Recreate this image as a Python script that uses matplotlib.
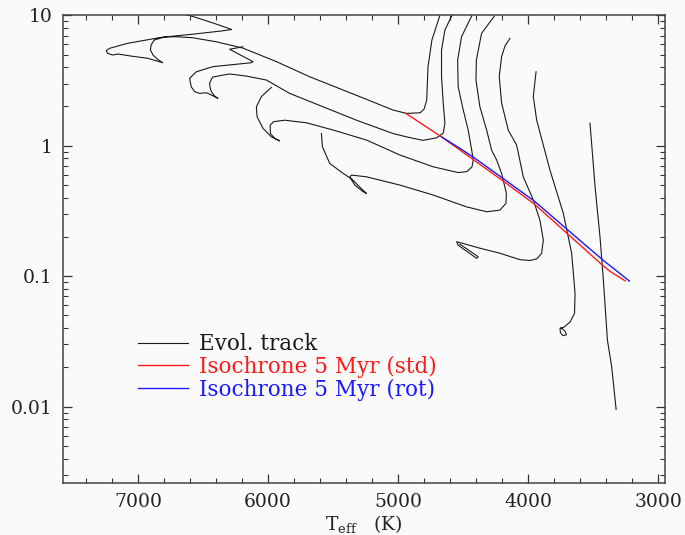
import matplotlib
matplotlib.use("Agg")
import matplotlib.pyplot as plt
from matplotlib.ticker import MultipleLocator, LogLocator, FuncFormatter, NullFormatter

# PMS evolutionary tracks, Teff [K] and L [Lsun]
track1_teff = [4670, 4680, 4710, 4740, 4770, 4780, 4800, 4830, 4935, 5040,
               5295, 5680, 5935, 6195, 6400, 6580, 6705, 6795, 6875, 6900,
               6905, 6885, 6850, 6810, 6925, 7055, 7155, 7195, 7235, 7245,
               7220, 7080, 6820, 6565, 6360, 6280, 6435, 6590, 6680]
track1_lum = [10.6, 9.88, 7.99, 6.47, 4.01, 2.24, 1.91, 1.79, 1.77, 1.88,
              2.38, 3.38, 4.41, 5.61, 6.27, 6.73, 6.85, 6.82, 6.47, 5.92,
              5.42, 4.96, 4.60, 4.33, 4.68, 4.87, 5.05, 4.96, 5.11, 5.35,
              5.58, 6.10, 6.78, 7.19, 7.58, 7.78, 8.81, 9.88, 10.4]

track2_teff = [4586, 4588, 4640, 4666, 4666, 4653, 4640, 4653, 4704, 4810,
               4935, 5038, 5320, 5577, 5834, 6013, 6167, 6296, 6347, 6427,
               6450, 6446, 6437, 6411, 6386, 6437, 6475, 6527, 6565, 6591,
               6604, 6552, 6424, 6129, 6116, 6296, 6193]
track2_lum = [10.6, 9.88, 7.71, 5.42, 3.38, 2.13, 1.49, 1.25, 1.15, 1.10,
              1.17, 1.24, 1.57, 1.99, 2.52, 3.19, 3.42, 3.55, 3.48, 3.36,
              3.03, 2.79, 2.60, 2.40, 2.31, 2.45, 2.55, 2.52, 2.60, 2.83,
              3.29, 3.69, 4.04, 4.33, 4.41, 5.49, 5.74]

track3_teff = [4432, 4434, 4512, 4542, 4538, 4499, 4461, 4434, 4422, 4432,
               4471, 4538, 4730, 4987, 5243, 5500, 5705, 5872, 5957, 5984,
               5982, 5949, 5911, 5975, 6039, 6085, 6090, 6052, 5975]
track3_lum = [10.6, 9.88, 6.85, 4.54, 2.83, 1.88, 1.32, 0.927, 0.777, 0.687,
              0.634, 0.623, 0.690, 0.85, 1.106, 1.32, 1.50, 1.57, 1.53, 1.44,
              1.24, 1.14, 1.09, 1.17, 1.36, 1.67, 1.99, 2.38, 2.80]

track4_teff = [4259, 4358, 4398, 4401, 4371, 4319, 4281, 4242, 4204, 4167,
               4170, 4217, 4319, 4473, 4730, 4987, 5243, 5359, 5372, 5333,
               5269, 5243, 5287, 5356, 5423, 5526, 5582, 5590]
track4_lum = [9.88, 7.28, 4.54, 3.19, 1.99, 1.32, 0.927, 0.777, 0.614, 0.431,
              0.362, 0.321, 0.312, 0.340, 0.419, 0.500, 0.578, 0.596, 0.575, 0.500,
              0.444, 0.431, 0.474, 0.555, 0.614, 0.733, 0.982, 1.24]

track5_teff = [4140, 4178, 4204, 4222, 4204, 4153, 4088, 4037, 3960, 3909,
               3883, 3896, 3932, 3986, 4063, 4217, 4371, 4550, 4538, 4463,
               4396, 4384, 4463, 4525]
track5_lum = [6.66, 5.82, 4.81, 3.38, 2.13, 1.32, 1.01, 0.578, 0.384, 0.269,
              0.189, 0.150, 0.136, 0.132, 0.134, 0.150, 0.164, 0.184, 0.173, 0.153,
              0.137, 0.141, 0.160, 0.176]

track6_teff = [3939, 3960, 3934, 3832, 3729, 3665, 3639, 3643, 3678, 3724,
               3755, 3751, 3732, 3705, 3716, 3747]
track6_lum = [3.69, 2.38, 1.57, 0.651, 0.303, 0.150, 0.0738, 0.0518, 0.0445, 0.0407,
              0.0396, 0.0369, 0.0350, 0.0356, 0.0379, 0.0403]

track7_teff = [3524, 3485, 3447, 3421, 3390, 3357, 3323]
track7_lum = [1.49, 0.485, 0.200, 0.0933, 0.0324, 0.0202, 0.00952]

# 5 Myr isochrones
iso_std_teff = [4940, 4666, 4422, 4191, 3947, 3716, 3434, 3370, 3254]
iso_std_lum = [1.77, 1.17, 0.784, 0.536, 0.354, 0.220, 0.123, 0.109, 0.0922]
iso_rot_teff = [4666, 4540, 4422, 4191, 3947, 3703, 3421, 3344, 3221]
iso_rot_lum = [1.17, 0.977, 0.819, 0.560, 0.373, 0.230, 0.132, 0.115, 0.0918]

tracks = [(track1_teff, track1_lum), (track2_teff, track2_lum),
          (track3_teff, track3_lum), (track4_teff, track4_lum),
          (track5_teff, track5_lum), (track6_teff, track6_lum),
          (track7_teff, track7_lum)]

bg = '#fafafa'
plt.rcParams['font.family'] = 'DejaVu Serif'
plt.rcParams['mathtext.fontset'] = 'dejavuserif'

fig = plt.figure(figsize=(6.85, 5.35), dpi=100, facecolor=bg)
ax = fig.add_axes([0.0915, 0.0972, 0.8797, 0.8742])
ax.set_facecolor(bg)

for i, (t, l) in enumerate(tracks):
    ax.plot(t, l, color='#1a1a1a', lw=0.8, label='Evol. track' if i == 0 else None)
ax.plot(iso_std_teff, iso_std_lum, color='#ff1a1a', lw=1.0, label='Isochrone 5 Myr (std)')
ax.plot(iso_rot_teff, iso_rot_lum, color='#1a1aff', lw=1.0, label='Isochrone 5 Myr (rot)')

ax.set_yscale('log')
ax.set_xlim(7580, 2945)
ax.set_ylim(0.0026, 10)

ax.xaxis.set_major_locator(MultipleLocator(1000))
ax.xaxis.set_minor_locator(MultipleLocator(200))
ax.yaxis.set_major_locator(LogLocator(base=10, numticks=10))
ax.yaxis.set_minor_locator(LogLocator(base=10, subs=range(2, 10), numticks=20))
ax.yaxis.set_major_formatter(FuncFormatter(lambda v, p: '%g' % v))
ax.yaxis.set_minor_formatter(NullFormatter())

ax.tick_params(which='both', direction='in', top=True, right=True,
               colors='#333333', labelcolor='#222222', labelsize=13.5)
ax.tick_params(which='major', length=6.5, width=0.9, pad=7)
ax.tick_params(which='minor', length=3.3, width=0.8)
for s in ax.spines.values():
    s.set_color('#444444')
    s.set_linewidth(1.1)

ax.set_xlabel(r'T$_{\rm eff}$   (K)', fontsize=13.5, color='#222222', labelpad=2)

leg = ax.legend(loc='upper left', bbox_to_anchor=(0.093, 0.362), frameon=False,
                fontsize=15.5, handlelength=2.3, handletextpad=0.55,
                labelspacing=0.04, labelcolor='linecolor')

fig.savefig('out.png', dpi=100, facecolor=bg)
